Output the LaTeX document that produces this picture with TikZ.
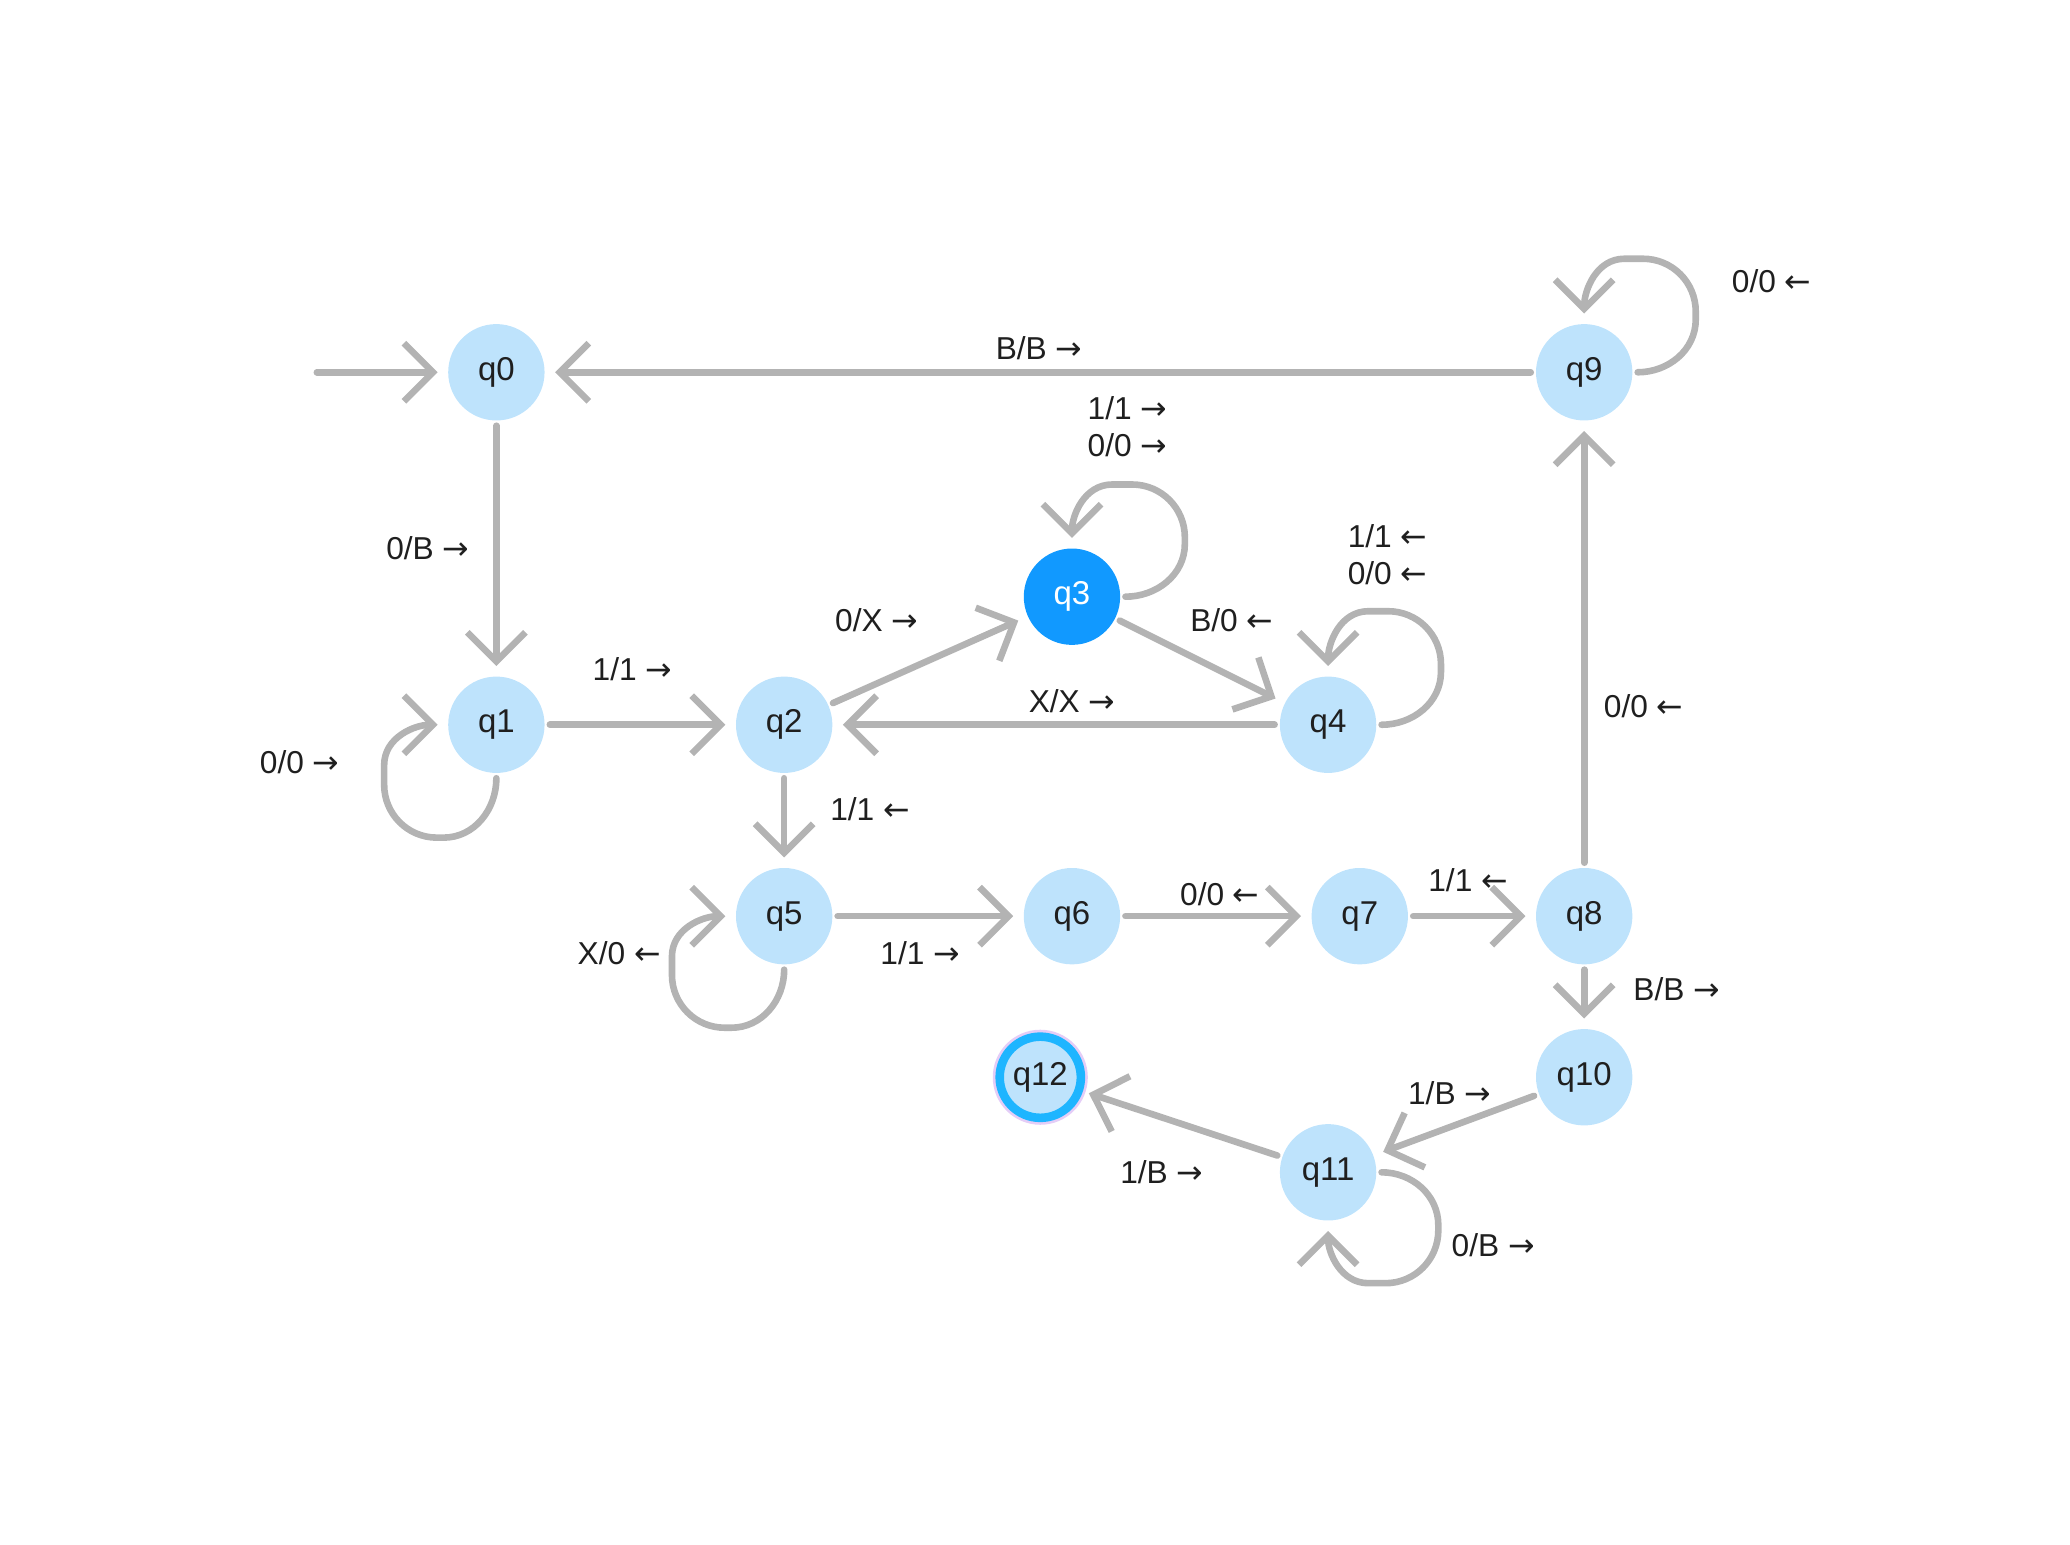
\documentclass[tikz,border=0pt]{standalone}
\usepackage{fontspec}
\setmainfont{Liberation Sans}
\newfontfamily\arrowfont{DejaVu Sans}
\newcommand\toR{{\arrowfont\fontsize{12}{14}\selectfont →}}
\newcommand\toL{{\arrowfont\fontsize{12}{14}\selectfont ←}}
\usetikzlibrary{arrows.meta}
\definecolor{stfill}{HTML}{BEE3FC}
\definecolor{stact}{HTML}{1199FF}
\definecolor{edgegray}{HTML}{B3B3B3}
\definecolor{ringblue}{HTML}{1EB5FF}
\definecolor{ringlav}{HTML}{E4CDF7}
\definecolor{txt}{HTML}{1F1F1F}
\begin{document}
\begin{tikzpicture}[line join=round, line cap=round, x=0.5pt, y=-0.5pt,
            >={Straight Barb[length=11pt,width=22pt]},
            st/.style={circle, fill=stfill, minimum size=36.5pt, inner sep=0pt, outer sep=2pt, text=txt, font=\fontsize{12.5}{15}\selectfont},
            stcur/.style={st, fill=stact, text=white},
            stacc/.style={st, minimum size=30.75pt, draw=ringblue, line width=3.25pt, preaction={draw=ringlav, line width=5.25pt}},
            edge/.style={draw=edgegray, line width=2.5pt, ->, shorten >=2pt},
            lbl/.style={text=txt, font=\fontsize{12}{14}\selectfont, align=center}
            ]
            \useasboundingbox (0,0) rectangle (1568,1170);
            %states
            \node[st] (q0) at (376,282) {q0};
            \node[st] (q1) at (376,549) {q1};
            \node[st] (q2) at (594,549) {q2};
            \node[stcur] (q3) at (812,452) {q3};
            \node[st] (q4) at (1006,549) {q4};
            \node[st] (q5) at (594,694) {q5};
            \node[st] (q6) at (812,694) {q6};
            \node[st] (q7) at (1030,694) {q7};
            \node[st] (q8) at (1200,694) {q8};
            \node[st] (q9) at (1200,282) {q9};
            \node[st] (q10) at (1200,816) {q10};
            \node[st] (q11) at (1006,888) {q11};
            \node[stacc] (q12) at (788,816) {q12};
            \coordinate (init) at (240,282);
            %transitions
            \draw[edge] (init) -- (q0);
            \draw[edge] (q9) -- (q0) node[lbl] at (787,264) {B/B \toR};
            \draw[edge] (q0) -- (q1) node[lbl] at (324,415) {0/B \toR};
            \draw[edge] (q1.south) to[out=-90,in=0] ++(-40,45) -- ++(-5,0) to[out=180,in=-90] ++(-40,-40) -- ++(0,-15) to[out=90,in=180] (q1.west)
                node[lbl] at (227,577) {0/0 \toR};
            \draw[edge] (q1) -- (q2) node[lbl] at (479,507) {1/1 \toR};
            \draw[edge] (q2) -- (q3) node[lbl] at (664,470) {0/X \toR};
            \draw[edge] (q3.east) to[out=0,in=-90] ++(45,-40) -- ++(0,-5) to[out=90,in=0] ++(-40,-40) -- ++(-15,0) to[out=180,in=90] (q3.north)
                node[lbl] at (854,323) {1/1 \toR\\0/0 \toR};
            \draw[edge] (q3) -- (q4) node[lbl] at (933,470) {B/0 \toL};
            \draw[edge] (q4) -- (q2) node[lbl] at (812,531) {X/X \toR};
            \draw[edge] (q4.east) to[out=0,in=-90] ++(45,-40) -- ++(0,-6) to[out=90,in=0] ++(-40,-40) -- ++(-15,0) to[out=180,in=90] (q4.north)
                node[lbl] at (1051,420) {1/1 \toL\\0/0 \toL};
            \draw[edge] (q2) -- (q5) node[lbl] at (659,613) {1/1 \toL};
            \draw[edge] (q5.south) to[out=-90,in=0] ++(-40,44) -- ++(-5,0) to[out=180,in=-90] ++(-40,-40) -- ++(0,-14) to[out=90,in=180] (q5.west)
                node[lbl] at (469,722) {X/0 \toL};
            \draw[edge] (q5) -- (q6) node[lbl] at (697,722) {1/1 \toR};
            \draw[edge] (q6) -- (q7) node[lbl] at (924,677) {0/0 \toL};
            \draw[edge] (q7) -- (q8) node[lbl] at (1112,667) {1/1 \toL};
            \draw[edge] (q8) -- (q9) node[lbl] at (1245,535) {0/0 \toL};
            \draw[edge] (q9.east) to[out=0,in=-90] ++(44,-40) -- ++(0,-6) to[out=90,in=0] ++(-40,-40) -- ++(-14,0) to[out=180,in=90] (q9.north)
                node[lbl] at (1342,213) {0/0 \toL};
            \draw[edge] (q8) -- (q10) node[lbl] at (1270,749) {B/B \toR};
            \draw[edge] (q10) -- (q11) node[lbl] at (1098,828) {1/B \toR};
            \draw[edge] (q11) -- (q12) node[lbl] at (880,888) {1/B \toR};
            \draw[edge] (q11.east) to[out=0,in=90] ++(43,40) -- ++(0,4) to[out=-90,in=0] ++(-40,40) -- ++(-13,0) to[out=180,in=-90] (q11.south)
                node[lbl] at (1131,943) {0/B \toR};
        \end{tikzpicture}
\end{document}
